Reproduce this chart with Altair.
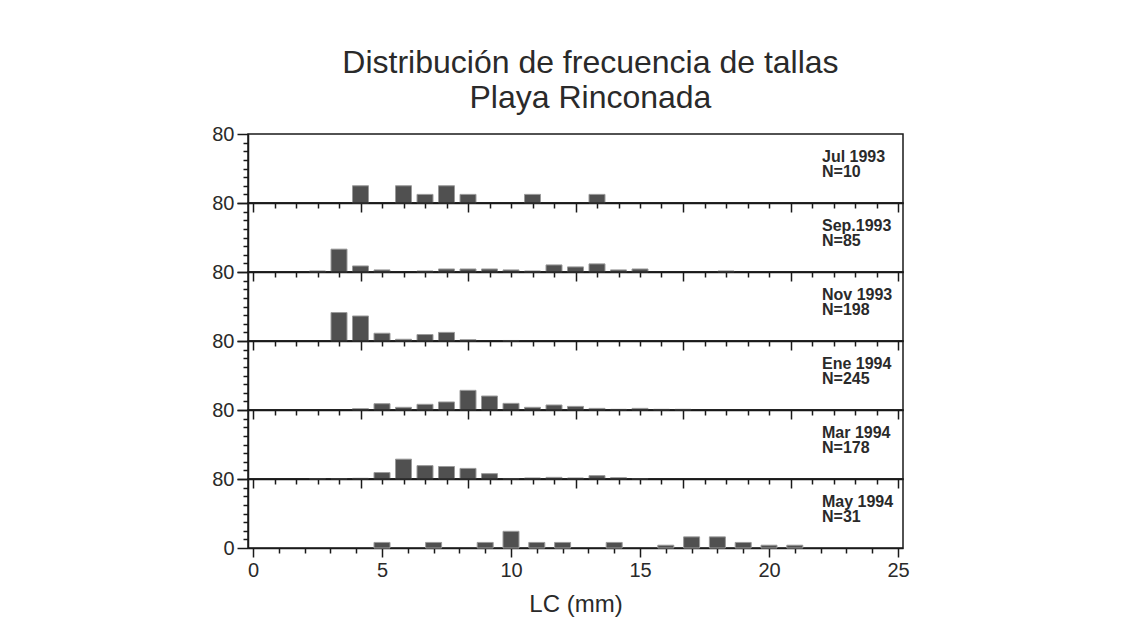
import altair as alt
import pandas as pd

FONT = "Liberation Sans, Arial, sans-serif"

title_lines = ["Distribución de frecuencia de tallas", "Playa Rinconada"]
x_title = "LC (mm)"

panel_names = ["Jul 1993", "Sep.1993", "Nov 1993", "Ene 1994", "Mar 1994", "May 1994"]
panel_n = ["N=10", "N=85", "N=198", "N=245", "N=178", "N=31"]

# LC classes (mm) and frequencies (%)
jul_lc = [5, 7, 8, 9, 10, 13, 16]
jul_pct = [20, 20, 10, 20, 10, 10, 10]

sep_lc = [3, 4, 5, 6, 8, 9, 10, 11, 12, 13, 14, 15, 16, 17, 18, 22]
sep_pct = [1.2, 26.5, 7, 2.4, 1.2, 3.5, 3.5, 3.5, 2.4, 1.2, 8.2, 5.9, 9.4, 2.4, 3.5, 1.2]

nov_lc = [4, 5, 6, 7, 8, 9, 10, 12]
nov_pct = [33, 29, 9, 2, 7.5, 10, 1.5, 0.6]

ene_lc = [5, 6, 7, 8, 9, 10, 11, 12, 13, 14, 15, 16, 17, 18, 19, 20]
ene_pct = [1.5, 7.3, 3.1, 6.6, 9.3, 22.8, 16.2, 7.7, 3.1, 5.8, 4.2, 1.9, 0.8, 1.9, 0.8, 0.8]

mar_lc = [3, 4, 5, 6, 7, 8, 9, 10, 11, 12, 13, 14, 15, 16, 17, 18]
mar_pct = [0.5, 0.5, 0.8, 7.5, 23, 15.5, 14.5, 12.3, 6.2, 0.6, 1.2, 1.9, 1.2, 3.9, 1.5, 0.5]

may_lc = [5, 7, 9, 10, 11, 12, 14, 16, 17, 18, 19, 20, 21]
may_pct = [6.45, 6.45, 6.45, 19.35, 6.45, 6.45, 6.45, 3.23, 12.9, 12.9, 6.45, 3.23, 3.23]

series = [(jul_lc, jul_pct), (sep_lc, sep_pct), (nov_lc, nov_pct),
          (ene_lc, ene_pct), (mar_lc, mar_pct), (may_lc, may_pct)]
x_max_top = 30
x_max_bottom = 25
y_max = 80

PW = 655
PH = 69


def panel(i):
    lcs, pcts = series[i]
    df = pd.DataFrame({"lc": lcs, "pct": pcts})
    last = i == len(series) - 1
    xmax = x_max_bottom if last else x_max_top
    xkw = dict(values=list(range(0, xmax + 1)), grid=False,
               tickSize={"condition": {"test": "datum.value % 5 === 0", "value": 9}, "value": 5},
               labelOverlap=False)
    if last:
        xkw.update(labelExpr="datum.value % 5 === 0 ? datum.label : ''", title=x_title,
                   labelPadding=3, titlePadding=12)
    else:
        xkw.update(labels=False, title=None)
    ykw = dict(values=list(range(0, y_max + 1, 10)), grid=False, title=None,
               tickSize={"condition": {"test": "datum.value % 80 === 0", "value": 11}, "value": 5},
               labelOverlap=False, labelPadding=3)
    if last:
        ykw["labelExpr"] = "datum.value === 80 || datum.value === 0 ? datum.label : ''"
    else:
        ykw["labelExpr"] = "datum.value === 80 ? datum.label : ''"

    bars = alt.Chart(df).mark_bar(size=16, fill="#505050", stroke="#9a9a9a", strokeWidth=1).encode(
        x=alt.X("lc:Q", scale=alt.Scale(domain=[0, xmax], nice=False, zero=True), axis=alt.Axis(**xkw)),
        y=alt.Y("pct:Q", scale=alt.Scale(domain=[0, y_max], nice=False), axis=alt.Axis(**ykw)),
    )
    lab = pd.DataFrame({"t": [panel_names[i]]})
    labn = pd.DataFrame({"t": [panel_n[i]]})
    t1 = alt.Chart(lab).mark_text(align="left", baseline="middle", font=FONT, fontSize=16,
                                  fontWeight="bold", color="#2a2a2a").encode(
        x=alt.value(574), y=alt.value(23), text="t:N")
    t2 = alt.Chart(labn).mark_text(align="left", baseline="middle", font=FONT, fontSize=16,
                                   fontWeight="bold", color="#2a2a2a").encode(
        x=alt.value(574), y=alt.value(38), text="t:N")
    return alt.layer(bars, t1, t2).properties(width=PW, height=PH)


chart = alt.vconcat(*[panel(i) for i in range(len(series))], spacing=0, bounds="flush").properties(
    title=alt.TitleParams(text=title_lines, font=FONT, fontSize=32, fontWeight="normal",
                          color="#2a2a2a", anchor="middle", lineHeight=35, offset=8, dx=30),
    padding={"left": 203, "top": 39, "right": 5, "bottom": 5},
    background="white",
).configure_view(
    stroke="#1a1a1a", strokeWidth=1.5
).configure_axis(
    domainColor="#1a1a1a", domainWidth=1.5, tickColor="#1a1a1a", tickWidth=1.5,
    labelFont=FONT, labelFontSize=20, labelColor="#2a2a2a",
    titleFont=FONT, titleFontSize=24, titleFontWeight="normal", titleColor="#2a2a2a",
)

chart.save("out.html", embed_options={"renderer": "svg", "actions": False})
